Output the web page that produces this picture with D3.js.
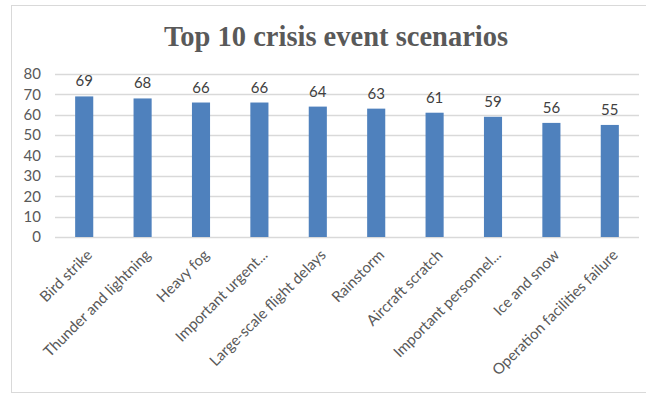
<!DOCTYPE html>
<html>
<head>
<meta charset="utf-8">
<script src="https://cdn.jsdelivr.net/npm/d3@7"></script>
<style>
  body { margin: 0; background: #fff; }
</style>
</head>
<body>
<div id="chart"></div>
<script>
const categories = ['Bird strike', 'Thunder and lightning', 'Heavy fog', 'Important urgent...', 'Large-scale flight delays', 'Rainstorm', 'Aircraft scratch', 'Important personnel...', 'Ice and snow', 'Operation facilities failure']
const values = [69, 68, 66, 66, 64, 63, 61, 59, 56, 55]
const yTicks = [0, 10, 20, 30, 40, 50, 60, 70, 80]

const width = 646
const height = 394
const margins = { top: 74, right: 7, bottom: 157, left: 55 }
const labelFont = 'Lato, "Open Sans", sans-serif'

const svg = d3.select('#chart').append('svg')
  .attr('width', width)
  .attr('height', height)

// chart frame
svg.append('rect')
  .attr('x', 11.5).attr('y', 5.5)
  .attr('width', 640).attr('height', 387)
  .attr('fill', '#fff')
  .attr('stroke', '#d9d9d9')

const xScale = d3.scaleBand()
  .domain(categories)
  .range([margins.left, width - margins.right])
  .paddingInner(0.69)
  .paddingOuter(0.345)

const yScale = d3.scaleLinear()
  .domain([0, 80])
  .range([height - margins.bottom, margins.top])

// gridlines
svg.append('g')
  .selectAll('line')
  .data(yTicks)
  .enter().append('line')
  .attr('x1', margins.left)
  .attr('x2', width - margins.right)
  .attr('y1', d => Math.round(yScale(d)) + 0.5)
  .attr('y2', d => Math.round(yScale(d)) + 0.5)
  .attr('stroke', '#d9d9d9')
  .attr('stroke-width', 1.3)

// y axis labels
const yAxis = svg.append('g')
  .attr('transform', `translate(${margins.left - 14}, 0)`)
  .call(d3.axisLeft(yScale).tickValues(yTicks).tickSize(0).tickPadding(0))
yAxis.select('.domain').remove()
yAxis.selectAll('text')
  .attr('fill', '#595959')
  .style('font-family', labelFont)
  .style('font-size', '15px')

// bars
svg.append('g')
  .selectAll('rect')
  .data(values)
  .enter().append('rect')
  .attr('x', (d, i) => xScale(categories[i]))
  .attr('y', d => yScale(d))
  .attr('width', xScale.bandwidth())
  .attr('height', d => yScale(0) - yScale(d))
  .attr('fill', '#4f81bd')

// value labels
svg.append('g')
  .selectAll('text')
  .data(values)
  .enter().append('text')
  .attr('x', (d, i) => xScale(categories[i]) + xScale.bandwidth() / 2)
  .attr('y', d => yScale(d) - 10)
  .attr('text-anchor', 'middle')
  .attr('fill', '#404040')
  .style('font-family', labelFont)
  .style('font-size', '15px')
  .text(d => d)

// x axis labels
const xAxis = svg.append('g')
  .attr('transform', `translate(0, ${yScale(0)})`)
  .call(d3.axisBottom(xScale).tickSize(0).tickPadding(0))
xAxis.select('.domain').remove()
xAxis.selectAll('text')
  .attr('text-anchor', 'end')
  .attr('dy', null)
  .attr('y', 0)
  .attr('transform', 'translate(9, 19) rotate(-45)')
  .attr('fill', '#595959')
  .style('font-family', labelFont)
  .style('font-size', '15px')

// title
svg.append('text')
  .attr('x', 336)
  .attr('y', 46)
  .attr('text-anchor', 'middle')
  .attr('fill', '#595959')
  .style('font-family', '"Liberation Serif", "Times New Roman", serif')
  .style('font-weight', 'bold')
  .style('font-size', '28.5px')
  .text('Top 10 crisis event scenarios')
</script>
</body>
</html>
